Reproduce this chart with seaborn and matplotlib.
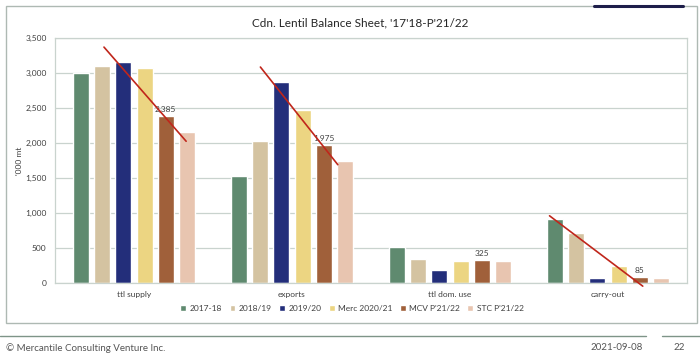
import matplotlib.pyplot as plt
import seaborn as sns
import pandas as pd
import numpy as np
from matplotlib.patches import Rectangle
from matplotlib.lines import Line2D

categories = ["ttl supply", "exports", "ttl dom. use", "carry-out"]
seasons = ["2017-18", "2018/19", "2019/20", "Merc 2020/21", "MCV P'21/22", "STC P'21/22"]
v_1718 = [2995, 1535, 508, 910]
v_1819 = [3100, 2030, 338, 710]
v_1920 = [3150, 2865, 192, 72]
v_merc = [3065, 2470, 318, 250]
v_mcv = [2385, 1975, 325, 85]
v_stc = [2150, 1745, 320, 65]
colors = ["#5F8A6F", "#D4C3A1", "#232E7A", "#ECD582", "#A0603A", "#E8C5B0"]

# hand-drawn trend lines: (category, x offset, value) start -> end
trend_lines = [
    ((0, -0.19, 3370), (0, 0.33, 2025)),
    ((1, -0.20, 3085), (1, 0.29, 1690)),
    ((3, -0.37, 960), (3, 0.22, -45)),
]

values = [v_1718, v_1819, v_1920, v_merc, v_mcv, v_stc]
df = pd.DataFrame({
    "category": np.tile(categories, len(seasons)),
    "season": np.repeat(seasons, len(categories)),
    "value": np.ravel(values),
})

sns.set_style("white")
plt.rcParams["font.family"] = ["Lato", "DejaVu Sans"]

fig = plt.figure(figsize=(7, 3.61), dpi=100)
ax = fig.add_axes([55 / 700, 1 - 283 / 361, (687 - 55) / 700, (283 - 38) / 361])

sns.barplot(data=df, x="category", y="value", hue="season", order=categories,
            hue_order=seasons, palette=colors, width=0.8, gap=0.24,
            saturation=1, ax=ax, legend=True)

ax.set_ylim(0, 3500)
ax.set_yticks(np.arange(0, 3501, 500))
ax.set_yticklabels([f"{t:,}" for t in range(0, 3501, 500)])
ax.yaxis.grid(True, color="#C9D3CE", linewidth=0.9)
ax.set_axisbelow(True)
ax.tick_params(axis="both", length=0, labelsize=6, colors="#404040", pad=6)
ax.set_xlabel("")
ax.set_ylabel("'000 mt", fontsize=6, color="#404040", labelpad=2)
for side in ["left", "right", "top", "bottom"]:
    ax.spines[side].set_color("#C9D3CE")
    ax.spines[side].set_linewidth(0.9)
ax.set_xlim(-0.5, 3.5)

# data labels on the MCV bars
mcv_bars = ax.containers[4]
ax.bar_label(mcv_bars, labels=[f"{v:,}" for v in v_mcv], fontsize=6,
             color="#404040", padding=2)

for (c0, dx0, y0), (c1, dx1, y1) in trend_lines:
    ax.plot([c0 + dx0, c1 + dx1], [y0, y1], color="#C0261B", linewidth=1.2,
            clip_on=False, zorder=5)

leg = ax.legend(loc="upper center", bbox_to_anchor=(0.47, -0.06), ncol=6,
                frameon=False, fontsize=6, handlelength=0.7, handleheight=0.7,
                handletextpad=0.4, columnspacing=0.9)
for t in leg.get_texts():
    t.set_color("#404040")

fig.text(360 / 700, 1 - 23 / 361, "Cdn. Lentil Balance Sheet, '17'18-P'21/22",
         ha="center", va="center", fontsize=8.5, color="#262626")

# slide frame and footer
fig.patches.append(Rectangle((6 / 700, 1 - 323 / 361), (697 - 6) / 700, (323 - 6) / 361,
                             transform=fig.transFigure, fill=False,
                             edgecolor="#AEB9B3", linewidth=1.0))
fig.lines.append(Line2D([594 / 700, 683 / 700], [1 - 6 / 361] * 2,
                        transform=fig.transFigure, color="#1E1E4A", linewidth=2.2))
fig.lines.append(Line2D([0, 646 / 700], [1 - 336 / 361] * 2,
                        transform=fig.transFigure, color="#7E9488", linewidth=1.0))
fig.lines.append(Line2D([662 / 700, 1], [1 - 336 / 361] * 2,
                        transform=fig.transFigure, color="#7E9488", linewidth=1.0))
fig.text(6 / 700, 1 - 348 / 361, "© Mercantile Consulting Venture Inc.",
         ha="left", va="center", fontsize=7, color="#555555")
fig.text(617 / 700, 1 - 348 / 361, "2021-09-08", ha="center", va="center",
         fontsize=7, color="#555555")
fig.text(679 / 700, 1 - 348 / 361, "22", ha="center", va="center",
         fontsize=7, color="#555555")

fig.savefig("out.png", dpi=100)
